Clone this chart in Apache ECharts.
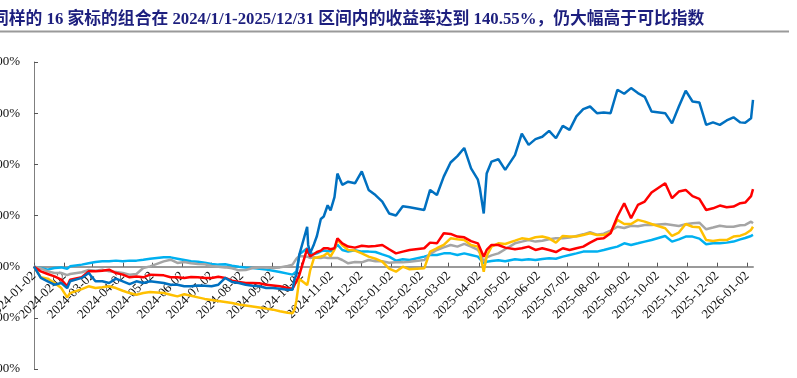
<!DOCTYPE html>
<html>
<head>
<meta charset="utf-8">
<script src="https://cdn.jsdelivr.net/npm/echarts@6/dist/echarts.min.js"></script>
<style>
  html, body { margin: 0; padding: 0; background: #fff; }
  #main { width: 797px; height: 378px; }
</style>
</head>
<body>
<div id="main"></div>
<script>
// 交易日（近似周频取样）
var dates = [
    '2024-01-02', '2024-01-09', '2024-01-16', '2024-01-23', '2024-01-30', '2024-02-05', '2024-02-08', '2024-02-20', '2024-02-27', '2024-03-05',
    '2024-03-12', '2024-03-19', '2024-03-26', '2024-04-02', '2024-04-09', '2024-04-16', '2024-04-23', '2024-04-30', '2024-05-14', '2024-05-21',
    '2024-05-28', '2024-06-04', '2024-06-11', '2024-06-18', '2024-06-25', '2024-07-02', '2024-07-09', '2024-07-16', '2024-07-23', '2024-07-30',
    '2024-08-06', '2024-08-13', '2024-08-20', '2024-08-27', '2024-09-03', '2024-09-10', '2024-09-18', '2024-09-23', '2024-09-25', '2024-09-27',
    '2024-09-30', '2024-10-08', '2024-10-09', '2024-10-11', '2024-10-15', '2024-10-18', '2024-10-22', '2024-10-25', '2024-10-29', '2024-11-01',
    '2024-11-05', '2024-11-08', '2024-11-13', '2024-11-19', '2024-11-26', '2024-12-03', '2024-12-10', '2024-12-17', '2024-12-24', '2024-12-31',
    '2025-01-07', '2025-01-14', '2025-01-21', '2025-02-05', '2025-02-11', '2025-02-18', '2025-02-25', '2025-03-04', '2025-03-11', '2025-03-18',
    '2025-03-25', '2025-04-01', '2025-04-03', '2025-04-07', '2025-04-10', '2025-04-15', '2025-04-22', '2025-04-29', '2025-05-09', '2025-05-16',
    '2025-05-23', '2025-05-30', '2025-06-06', '2025-06-13', '2025-06-20', '2025-06-27', '2025-07-04', '2025-07-11', '2025-07-18', '2025-07-25',
    '2025-08-01', '2025-08-08', '2025-08-15', '2025-08-22', '2025-08-29', '2025-09-05', '2025-09-12', '2025-09-19', '2025-09-26', '2025-10-10',
    '2025-10-17', '2025-10-24', '2025-10-31', '2025-11-07', '2025-11-14', '2025-11-21', '2025-11-28', '2025-12-05', '2025-12-12', '2025-12-19',
    '2025-12-26', '2025-12-31', '2026-01-06', '2026-01-08'
];

// 横轴刻度
var tickDates = [
    '2024-01-02', '2024-02-02', '2024-03-02', '2024-04-02', '2024-05-02', '2024-06-02', '2024-07-02', '2024-08-02', '2024-09-02',
    '2024-10-02', '2024-11-02', '2024-12-02', '2025-01-02', '2025-02-02', '2025-03-02', '2025-04-02', '2025-05-02', '2025-06-02',
    '2025-07-02', '2025-08-02', '2025-09-02', '2025-10-02', '2025-11-02', '2025-12-02', '2026-01-02'
];

// 累计收益率 %
var zuhe = [   // 16家标的组合
    0, -11, -14.3, -17.6, -16, -21, -14.3, -11, -6.2, -14.3,
    -14.3, -16, -11.7, -14.3, -17, -14.3, -16, -14.3, -16, -17.6,
    -17.6, -19.2, -19.2, -18.3, -18.6, -19.2, -17.6, -11, -15, -16,
    -17.6, -18.6, -19.2, -20.9, -20.9, -21.5, -22.5, -22.5, -12, -8,
    11.7, 39, 21.5, 13, 22, 30, 46.6, 49, 60, 55,
    68, 91, 80, 83, 81.5, 93, 75, 70, 63.6, 52,
    50, 59, 58, 55.4, 75, 70, 88, 101.8, 108, 116,
    96, 85, 76.6, 52, 91, 102.7, 105, 94.6, 109, 130,
    119, 124.6, 127, 132.7, 125.5, 137.6, 133.7, 146.8, 154, 156.5,
    150, 150.7, 150, 172.9, 169, 174.5, 169.6, 166, 151.7, 150,
    140, 156.5, 172, 161.4, 160.5, 138.6, 141, 138.6, 142.9, 146,
    141, 140.6, 145, 163
];
var hongxian = [   // 红线
    0, -4.6, -7.2, -9.5, -12.7, -19.2, -12.7, -10.4, -4.6, -4.6,
    -4, -3, -6.2, -7.8, -10.4, -9.5, -10.4, -7.8, -8.5, -10.4,
    -10.4, -11, -10, -10.4, -11, -11, -9.8, -11, -13.7, -15,
    -16, -16, -16.3, -17.6, -18.3, -19.2, -20.9, -21.5, -18, -14,
    -8, 17.6, 15, 10, 12.4, 14.3, 15.7, 18, 18, 17,
    18, 27.7, 22.8, 19.6, 18.6, 20.5, 19.6, 20.2, 21.2, 17,
    13, 14.7, 16.3, 18, 23.5, 22.8, 32.6, 32, 29.4, 28.7,
    25, 22.8, 21.2, 9.8, 16.3, 21.2, 21.2, 18.6, 17, 18,
    19.6, 16.3, 18, 16.3, 14.3, 18, 16.3, 18, 19.6, 23.5,
    27, 27.7, 32.6, 49, 62, 47.3, 60.3, 63.6, 72.4, 81.5,
    66.9, 73.4, 75, 69, 66.2, 55.4, 57, 59.7, 58, 58.7,
    62, 62.6, 69, 75.7
];
var huangxian = [   // 黄线
    0, -10.4, -11.7, -16, -20.9, -30, -25.8, -21.9, -19.2, -20.9,
    -20.2, -19.2, -20.9, -23.5, -25.8, -27.4, -25.8, -24.8, -25.8, -27.4,
    -29, -27, -28.5, -30, -31.5, -32.5, -33.5, -34.5, -35.5, -37,
    -38, -39, -40, -41, -42, -43.5, -45, -45.5, -42, -33,
    -12, -18, -14, -4, 8.5, 9, 10, 10.8, 13.4, 10,
    16.6, 26.4, 20.9, 16.3, 15.7, 13, 9.8, 7.8, 4.9, -2,
    -4.9, 0, -2.6, -1.6, 14.7, 18, 21.2, 27.7, 26.7, 26,
    21.2, 19.6, 13.7, -4.9, 10.4, 19.6, 22.8, 22.2, 25.4, 27.7,
    26.7, 28.7, 29.4, 27.7, 23.5, 30, 29.4, 29.4, 31, 32.6,
    31, 31, 33.3, 45.7, 41.7, 41.7, 45.7, 44, 41.7, 37.5,
    30, 33.3, 41.7, 39, 38.5, 26, 25, 26, 26, 29.4,
    30.3, 32, 35.9, 39
];
var lanxian = [   // 浅蓝线
    0, -1.3, -2.9, -1.3, -0.7, -2, 0.3, 2, 3.3, 4.6,
    5.2, 5.2, 5.9, 5.2, 5.9, 5.9, 6.8, 7.8, 9.1, 9.1,
    7.8, 6.5, 5.2, 4.9, 3.9, 2.6, 2, 2.3, 1, 0,
    -0.7, -1.3, -2, -2.9, -3.9, -5.2, -6.8, -7.8, -6.5, -4.6,
    12, 18, 13, 11.7, 12.4, 13, 15, 15.7, 15, 15,
    17.6, 21.5, 16.3, 14.7, 16, 14.7, 14.7, 14.3, 12, 9.8,
    5.9, 7.2, 6.5, 9.8, 11.4, 11.4, 13, 13, 11.4, 13,
    11.4, 9.8, 8.8, 3.3, 4.9, 5.5, 6.2, 5.2, 7.2, 6.5,
    7.2, 6.5, 7.5, 8.2, 7.8, 9.8, 11.4, 13, 14.7, 14.7,
    14.7, 16.3, 18, 19.6, 22.8, 21.2, 22.8, 24.5, 26, 30,
    24.5, 26.7, 29.4, 29.4, 27.4, 21.9, 22.8, 22.8, 23.5, 24.5,
    26.7, 28, 30, 31
];
var huixian = [   // 灰线
    0, -1.6, -4.6, -6.2, -6.2, -8.2, -7.2, -5.5, -3.3, -3.9,
    -2.9, -4.6, -5.2, -6.2, -7.8, -7.2, -1.3, 0.3, 5.2, 6.8,
    3.6, 4.6, 3.3, 2.6, 2.3, 0.7, 0, -0.7, -1.6, -3.6,
    -3.3, -1.3, -0.7, -0.7, -1.3, -0.7, 0.7, 2, 4.9, 7.8,
    10.4, 9.8, 9.1, 8.5, 9.1, 8.8, 8.5, 9.1, 8.5, 8.5,
    8.5, 8.5, 6.5, 3.3, 4.6, 4.2, 6.5, 5.2, 5.2, 3.9,
    4.2, 4.2, 4.9, 6.5, 12.4, 16.3, 18.9, 21.2, 19.6, 22.2,
    19.6, 16.3, 13.7, 4.9, 9.1, 11, 13, 17, 22.8, 24.5,
    26, 24.5, 25.4, 26.7, 27.7, 27.7, 28.4, 30, 31.6, 33.6,
    31.3, 32.3, 35.2, 39, 37.8, 40, 39.5, 40.8, 40.8, 41.7,
    40.8, 39.8, 41.4, 42.4, 43, 36.5, 38.2, 40, 39, 39,
    40.4, 40.8, 44, 42.4
];

function toTime(s) {
    var p = s.split('-');
    return new Date(+p[0], +p[1] - 1, +p[2]).getTime();
}
function pad(n) {
    return n < 10 ? '0' + n : '' + n;
}
function pairs(vals) {
    return dates.map(function (d, i) { return [toTime(d), vals[i]]; });
}

var serifFont = "'Liberation Serif', 'Times New Roman', 'Noto Sans CJK SC', serif";
var ticks = tickDates.map(toTime);
var tMin = toTime(dates[0]);
var tMax = toTime(dates[dates.length - 1]);

var myChart = echarts.init(document.getElementById('main'));

var option = {
    animation: false,
    backgroundColor: '#fff',
    graphic: [{
        type: 'text',
        x: -8,
        y: 20,
        style: {
            text: '同样的 16 家标的组合在 2024/1/1-2025/12/31 区间内的收益率达到 140.55%，仍大幅高于可比指数',
            fontSize: 16.8,
            fontWeight: 'bold',
            fontFamily: serifFont,
            fill: '#1d1f7e',
            verticalAlign: 'middle'
        }
    }, {
        type: 'line',
        shape: { x1: 0, y1: 31.5, x2: 789, y2: 31.5 },
        style: { stroke: '#9a9a9a', lineWidth: 2 }
    }],
    grid: [{
        left: 34,
        right: 44,
        top: 62,
        bottom: 9,
        outerBoundsMode: 'none'
    }, {
        // 只用来把日期标签放在 0 线下方
        left: 34,
        right: 44,
        top: 62,
        bottom: 111,
        outerBoundsMode: 'none'
    }],
    xAxis: [{
        type: 'value',   // 日期按时间戳画，刻度取每月 2 日
        gridIndex: 0,
        min: tMin,
        max: tMax,
        axisLine: {
            onZero: true,
            lineStyle: { color: '#9a9a9a', width: 2 }
        },
        axisTick: {
            show: true,
            inside: true,
            length: 4,
            customValues: ticks,
            lineStyle: { color: '#555', width: 1 }
        },
        axisLabel: { show: false },
        splitLine: { show: false }
    }, {
        type: 'value',
        gridIndex: 1,
        min: tMin,
        max: tMax,
        axisLine: { show: false },
        axisTick: { show: false },
        axisLabel: {
            customValues: ticks,
            rotate: 45,
            margin: 7,
            fontSize: 13,
            color: '#111',
            fontFamily: serifFont,
            formatter: function (v) {
                var d = new Date(v);
                return d.getFullYear() + '-' + pad(d.getMonth() + 1) + '-' + pad(d.getDate());
            }
        },
        splitLine: { show: false }
    }],
    yAxis: [{
        type: 'value',
        gridIndex: 0,
        min: -100,
        max: 200,
        interval: 50,
        axisLine: {
            show: true,
            onZero: false,
            lineStyle: { color: '#7f7f7f', width: 1 }
        },
        axisTick: {
            show: true,
            inside: true,
            length: 4,
            lineStyle: { color: '#555' }
        },
        axisLabel: {
            margin: 14,
            fontSize: 13,
            color: '#111',
            fontFamily: serifFont,
            formatter: function (v) { return v.toFixed(2) + '%'; }
        },
        splitLine: { show: false }
    }, {
        type: 'value',
        gridIndex: 1,
        min: 0,
        max: 200,
        show: false
    }],
    series: [{
        name: '浅蓝线',
        type: 'line',
        data: pairs(lanxian),
        showSymbol: false,
        lineStyle: { color: '#00b0f0', width: 2.5 }
    }, {
        name: '灰线',
        type: 'line',
        data: pairs(huixian),
        showSymbol: false,
        lineStyle: { color: '#a5a5a5', width: 2.5 }
    }, {
        name: '黄线',
        type: 'line',
        data: pairs(huangxian),
        showSymbol: false,
        lineStyle: { color: '#ffc000', width: 2.5 }
    }, {
        name: '红线',
        type: 'line',
        data: pairs(hongxian),
        showSymbol: false,
        lineStyle: { color: '#ff0000', width: 2.5 }
    }, {
        name: '16家标的组合',
        type: 'line',
        data: pairs(zuhe),
        showSymbol: false,
        lineStyle: { color: '#0070c0', width: 2.5 }
    }]
};
myChart.setOption(option);
</script>
</body>
</html>
